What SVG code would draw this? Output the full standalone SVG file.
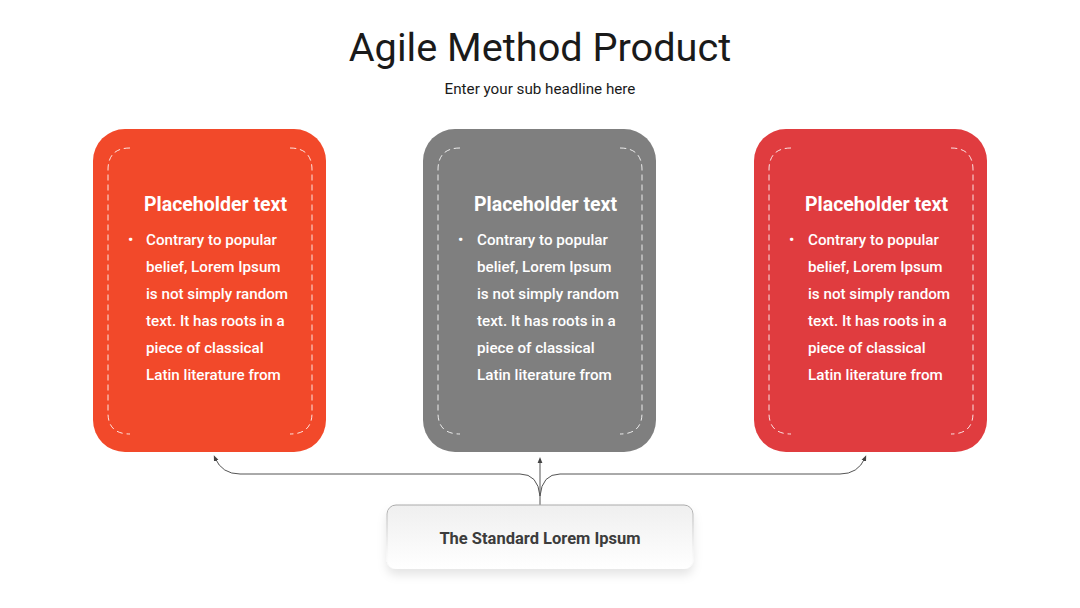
<svg xmlns="http://www.w3.org/2000/svg" width="1080" height="608" viewBox="0 0 1080 608">
<defs>
<style>
.title{font-family:Roboto,"Liberation Sans",sans-serif;font-size:39.7px;fill:#1a1a1a}
.sub{font-family:Roboto,"Liberation Sans",sans-serif;font-size:15.2px;fill:#1a1a1a}
.ch{font-family:Roboto,"Liberation Sans",sans-serif;font-size:19.5px;font-weight:700;fill:#fff}
.cb{font-family:Roboto,"Liberation Sans",sans-serif;font-size:15.2px;font-weight:500;fill:#fff}
.dash{fill:none;stroke:#fff;stroke-width:1;stroke-dasharray:6 4;opacity:0.85}
.conn{fill:none;stroke:#555;stroke-width:1}
.lbl{font-family:Roboto,"Liberation Sans",sans-serif;font-size:16.5px;font-weight:700;fill:#3c3c3c}
</style>
<marker id="ah" viewBox="0 0 10 10" refX="5" refY="5" markerWidth="6" markerHeight="6" orient="auto-start-reverse">
<path d="M0,1 L10,5 L0,9 z" fill="#444"/>
</marker>
<linearGradient id="bg" x1="0" y1="0" x2="0" y2="1">
<stop offset="0" stop-color="#efefef"/>
<stop offset="1" stop-color="#ffffff"/>
</linearGradient>
<linearGradient id="bs" x1="0" y1="0" x2="0" y2="1">
<stop offset="0" stop-color="#aaaaaa"/>
<stop offset="0.6" stop-color="#e6e6e6"/>
<stop offset="1" stop-color="#ffffff" stop-opacity="0"/>
</linearGradient>
<filter id="sh" x="-20%" y="-20%" width="140%" height="170%">
<feDropShadow dx="0" dy="6" stdDeviation="5" flood-color="#000" flood-opacity="0.10"/>
</filter>
</defs>
<rect width="1080" height="608" fill="#fff"/>
<text class="title" x="540" y="61" text-anchor="middle">Agile Method Product</text>
<text class="sub" x="540" y="94" text-anchor="middle">Enter your sub headline here</text>

<g id="card1">
<rect x="93" y="129" width="233" height="323" rx="32" fill="#F2492A"/>
<path class="dash" d="M130,148 Q108,148 108,170 V413 Q108,434 130,434"/>
<path class="dash" d="M290,148 Q312,148 312,170 V413 Q312,434 290,434"/>
<text class="ch" x="144" y="211">Placeholder text</text>
<text class="cb" x="128" y="245">•</text>
<text class="cb" x="146" y="245">Contrary to popular</text>
<text class="cb" x="146" y="272">belief, Lorem Ipsum</text>
<text class="cb" x="146" y="299">is not simply random</text>
<text class="cb" x="146" y="326">text. It has roots in a</text>
<text class="cb" x="146" y="353">piece of classical</text>
<text class="cb" x="146" y="380">Latin literature from</text>
</g>

<g id="card2">
<rect x="423" y="129" width="233" height="323" rx="32" fill="#7F7F7F"/>
<path class="dash" d="M460,148 Q438,148 438,170 V413 Q438,434 460,434"/>
<path class="dash" d="M620,148 Q642,148 642,170 V413 Q642,434 620,434"/>
<text class="ch" x="474" y="211">Placeholder text</text>
<text class="cb" x="458" y="245">•</text>
<text class="cb" x="477" y="245">Contrary to popular</text>
<text class="cb" x="477" y="272">belief, Lorem Ipsum</text>
<text class="cb" x="477" y="299">is not simply random</text>
<text class="cb" x="477" y="326">text. It has roots in a</text>
<text class="cb" x="477" y="353">piece of classical</text>
<text class="cb" x="477" y="380">Latin literature from</text>
</g>

<g id="card3">
<rect x="754" y="129" width="233" height="323" rx="32" fill="#E03C3F"/>
<path class="dash" d="M791,148 Q769,148 769,170 V413 Q769,434 791,434"/>
<path class="dash" d="M951,148 Q973,148 973,170 V413 Q973,434 951,434"/>
<text class="ch" x="805" y="211">Placeholder text</text>
<text class="cb" x="789" y="245">•</text>
<text class="cb" x="808" y="245">Contrary to popular</text>
<text class="cb" x="808" y="272">belief, Lorem Ipsum</text>
<text class="cb" x="808" y="299">is not simply random</text>
<text class="cb" x="808" y="326">text. It has roots in a</text>
<text class="cb" x="808" y="353">piece of classical</text>
<text class="cb" x="808" y="380">Latin literature from</text>
</g>

<g id="connectors">
<path class="conn" d="M540,496 Q538,474 520,474 H240 Q222,474 215,458" marker-end="url(#ah)"/>
<path class="conn" d="M540,496 Q542,474 560,474 H840 Q858,474 865,458" marker-end="url(#ah)"/>
<path class="conn" d="M540,506 V460" marker-end="url(#ah)"/>
</g>

<g id="label">
<rect x="387" y="505" width="306" height="64" rx="9" fill="url(#bg)" stroke="url(#bs)" stroke-width="1" filter="url(#sh)"/>
<text class="lbl" x="540" y="544" text-anchor="middle">The Standard Lorem Ipsum</text>
</g>
</svg>
